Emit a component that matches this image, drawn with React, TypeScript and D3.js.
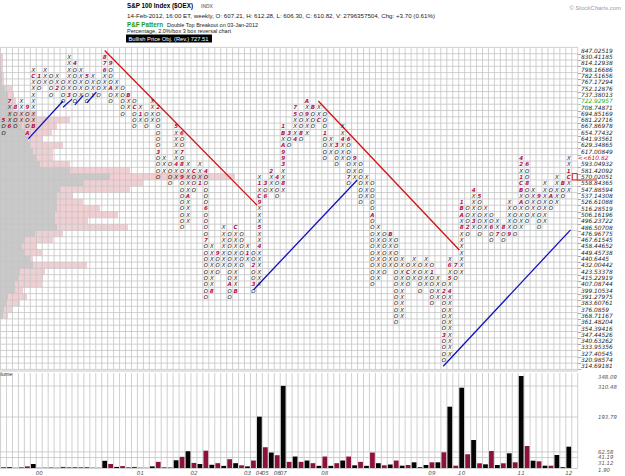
import React from 'react';
import * as d3 from 'd3';

// price level per box row (top row first), as printed on the right axis
const priceLabels = ['847.02519','830.41185','814.12938','798.16686','782.51656','767.17294','752.12876','737.38013','722.92957','708.74871','694.85169','681.22716','667.86978','654.77432','641.93561','629.34865','617.00849','<<610.82','593.04932','581.42092','570.02051','558.84365','547.88594','537.14308','526.61088','516.28519','506.16196','496.23722','486.50708','476.96775','467.61545','458.44652','449.45738','440.6445','432.00442','423.53378','415.22919','407.08744','399.10534','391.27975','383.60761','376.0859','368.71167','361.48204','354.39416','347.44526','340.63262','333.95356','327.40545','320.98574','314.69181'];

// P&F columns: top box row and the boxes from the top down (X / O, or month mark)
const colTop = [
  11,8,9,8,9,3,4,3,4,4, 5,1,2,3,4,4,5,1,2,5,
  6,7,8,9,10,8,9,17,18,12, 13,18,19,18,19,31,32,28,29,28,
  29,31,32,20,21,19,20,12,13,9, 10,8,9,9,10,14,15,12,14,17,
  18,20,21,28,29,29,30,33,34,33, 34,33,34,36,37,33,34,24,25,22,
  23,25,26,27,28,24,25,17,18,22, 23,21,22,20,21,17
];
const colBoxes = [
  '5OO','7XXX6','8OOO','XXXX','9OOOA','XCXXXXXXXB','1OO','XXX','OOOO','XX2',
  'OOOO','XXXXXX3','4OOOOOO','XXXXX','5OOOO','XXXX','OOO','876XXX','9OOOAOO','XXX',
  'OOOOO','BXX','OCOOO','X1X','OOO','XXXX','2OOOOOO3OOOO','XXX','OOOO','5XXXXX4XX',
  '6OO7O8O9OOOOOOOO','XXXXXAXXXX','COOO','XXX1','4OOOOO6OOOO7OOOOOOOOO','XXXXXXX8','9OOO','XXXXXXX','OOOOOOOOAOO','CXXXXXXXXXB',
  'OOOOOO','X1X','OO2OO3O','X1XC9XXX5XX4XXXXXX','3O6','2XXX','4OOO','1BXA993XX8X','3OO','75XXX4',
  'OOO8O','AX9XXX','BOOO','XXC','OOO1OOOO','XXX','3OOO','XX4XXX','6OOOOO7O','9XXX',
  'OOOOOOO','XXXX','OOOOOAOOOOOOOOOOO','XXXXXXXXX','OOOOOOO','BXXXXX','OOOOOOOOOOOOOO','XXXXXXXXXX','OCOO','XXXX',
  'OOOOO','XXXXX','O1OOOOO','XXXX','O2OOOOOO3OOOO','X6X5X4XXXXXXXXXX','7OO','1BAX8XXXXXXX','OOO2O','4XXXX3X',
  '5OOOOOO','XXXX','OO6OO','XX7','8OO','XXXXX9','OOOOO','42X1CBXAXXXX','6OO8OOOOOO','XXXXX',
  '9OOOOO','XXXXXXX','OAOO','XXXXX','BOO','XX1CXX'
];

// volume per column (millions)
const volume = [
  5,5,3,4,8,17,3,3,4,3, 6,4,5,4,5,3,3,29,17,6,
  9,4,6,3,3,8,25,4,4,31, 44,65,21,17,67,14,20,10,35,20,
  12,8,30,195,80,60,50,311,25,45, 25,30,20,10,45,10,20,30,45,12,
  25,10,60,20,12,15,30,10.6,13.2,23.3, 5.7,13.2,23.3,23.3,61,232.6,10.6,304,53.5,107.3,
  19.6,15.8,65.9,13.2,19.6,57.2,23.3,348,84.7,29.4, 27.1,10.6,10.6,50.8,5.7,82.1
];

// volume-at-price per box row: total (pink) and the grey part
const vapTotal = [0,3,3,3,4,4,12,14,16,14,37,70,57,52,43,63,53,53,70,130,235,143,130,73,83,100,118,88,128,63,53,37,42,33,87,45,43,42,23,27,20,12,8,0,0,0,0,0,0,0,0];
const vapGrey = [0,0,0,1,2,2,5,8,8,9,12,18,22,25,28,30,33,36,40,70,110,83,60,57,57,57,55,55,57,35,25,22,25,30,33,20,18,15,15,8,6,4,3,0,0,0,0,0,0,0,0];

const yearLabels = ['00','01','02','03','04','05','06','07','08','09','10','11','12'];
const yearCols = [6,23,32,41,43,44,46,47,54,72,77,87,95];

const volTicks = ['348.09','310.48','193.79','62.58','41.19','31.12','1.90'];
const volTickY = [377, 387, 417, 451.5, 457, 462.5, 470];
const volGridTicks = [310.48, 193.79, 62.58, 41.19];

// trend lines in (column, row) units
const redLines = [[[17, 0], [42.6, 24.5]], [[52.9, 8], [76.6, 31.6]]];
const blueLines = [
  [[4.16, 14], [10, 8]], [[10, 9], [11.5, 7.7]], [[12, 8.6], [13.4, 7.1]], [[14, 8.3], [15.6, 6.6]],
  [[42, 37.9], [59.45, 20.5]], [[73.9, 50], [95.3, 28.4]]
];
const reversalCol = 96, reversalRow = 20;

const mono = 'DejaVu Sans, sans-serif';
const sans = 'Liberation Sans, Arial, sans-serif';

export default function App() {
  const x = d3.scaleLinear().domain([-0.5, 96.5]).range([0.575, 577.7]);
  const y = d3.scaleLinear().domain([-0.5, 50.5]).range([47.35, 369.4]);
  const vy = d3.scaleLinear().domain([1.9, 348.09]).range([468, 376]);
  const vx = d3.scaleLinear().domain([0, 250]).range([0, 250]);
  const cw = x(1) - x(0);
  const rh = y(1) - y(0);
  const line = d3.line<number[]>().x(d => x(d[0])).y(d => y(d[1]));

  const cells: JSX.Element[] = [];
  colBoxes.forEach((s, i) => {
    s.split('').forEach((ch, j) => {
      const r = colTop[i] + j;
      const mark = ch !== 'X' && ch !== 'O';
      cells.push(
        <text key={`c${i}-${j}`} x={x(i)} y={y(r) + 2.1} textAnchor="middle"
          fontSize={mark ? 5.6 : 5.4} fontStyle="italic" fontWeight={mark ? 'bold' : 'normal'}
          fontFamily={mono} fill={mark ? '#b3124a' : '#111'}>{ch}</text>
      );
    });
  });

  return (
    <svg width={625} height={476} style={{ position: 'absolute', left: 0, top: 0, background: '#fff' }}>
      {/* header */}
      <text x={127} y={8} fontFamily={sans} fontWeight="bold" fontSize={7} textLength={66} lengthAdjust="spacingAndGlyphs">S&amp;P 100 Index ($OEX)</text>
      <text x={201} y={8} fontFamily={sans} fontWeight="bold" fontSize={5} fill="#888">INDX</text>
      <text x={127} y={17.5} fontFamily={sans} fontSize={5.4} fill="#222" textLength={308} lengthAdjust="spacingAndGlyphs">14-Feb-2012, 16:00 ET, weekly, O: 607.21, H: 612.28, L: 606.30, C: 610.82, V: 2796357504, Chg: +3.70 (0.61%)</text>
      <text x={127} y={26.5} fontFamily={sans} fontWeight="bold" fontSize={6.4} fill="#1a9a1a" textLength={36} lengthAdjust="spacingAndGlyphs">P&amp;F Pattern</text>
      <text x={167} y={26.5} fontFamily={sans} fontSize={5.2} fill="#222" textLength={91} lengthAdjust="spacingAndGlyphs">Double Top Breakout on 03-Jan-2012</text>
      <text x={127} y={33} fontFamily={sans} fontSize={5.2} fill="#222" textLength={104} lengthAdjust="spacingAndGlyphs">Percentage, 2.0%/box 3 box reversal chart</text>
      <rect x={126} y={34.5} width={86} height={8} fill="#000" />
      <text x={128.5} y={40.8} fontFamily={sans} fontSize={5.4} fill="#fff" textLength={80} lengthAdjust="spacingAndGlyphs">Bullish Price Obj. (Rev.) 727.51</text>
      <text x={621} y={10} textAnchor="end" fontFamily={sans} fontStyle="italic" fontSize={6} fill="#999">© StockCharts.com</text>

      {/* volume at price */}
      {vapTotal.map((v, k) => v > 0 && (
        <rect key={`vp${k}`} x={0} y={y(k - 0.5)} width={vx(v)} height={rh} fill="#f1cfd3" />
      ))}
      {vapGrey.map((v, k) => v > 0 && (
        <rect key={`vg${k}`} x={0} y={y(k - 0.5)} width={vx(v)} height={rh} fill="#c9c9c9" />
      ))}

      {/* grid */}
      {d3.range(98).map(k => (
        <line key={`gv${k}`} x1={x(k - 0.5)} x2={x(k - 0.5)} y1={y(-0.5)} y2={y(50.5)} stroke="#c4c4c4" strokeWidth={0.8} />
      ))}
      {d3.range(52).map(k => (
        <line key={`gh${k}`} x1={x(-0.5)} x2={x(96.5)} y1={y(k - 0.5)} y2={y(k - 0.5)} stroke="#c4c4c4" strokeWidth={0.8} />
      ))}

      {/* price axis */}
      {priceLabels.map((p, k) => (
        <text key={`pl${k}`} x={578} y={y(k) + 2.2} fontFamily={mono} fontStyle="italic" fontSize={5.9}
          fill={p.startsWith('<<') ? '#d01010' : k === 8 ? '#22aa22' : '#222'}>{p.startsWith('<<') ? p : '_' + p}</text>
      ))}

      {/* trend lines */}
      {redLines.map((l, i) => <path key={`rl${i}`} d={line(l) || ''} stroke="#d41010" strokeWidth={1.3} fill="none" />)}
      {blueLines.map((l, i) => <path key={`bl${i}`} d={line(l) || ''} stroke="#1010b8" strokeWidth={1.3} fill="none" />)}

      {cells}

      {/* reversal box */}
      <rect x={x(reversalCol - 0.5) + 0.5} y={y(reversalRow - 0.5)} width={cw - 1} height={rh} fill="none" stroke="#d41010" strokeWidth={0.9} />
      <line x1={x(reversalCol + 0.5) - 0.5} x2={597} y1={y(reversalRow + 0.5)} y2={y(reversalRow + 0.5)} stroke="#d41010" strokeWidth={0.9} />

      {/* volume panel */}
      <line x1={0} x2={578} y1={371} y2={371} stroke="#e2e2e2" strokeWidth={2} />
      {d3.range(98).map(k => (
        <line key={`vv${k}`} x1={x(k - 0.5)} x2={x(k - 0.5)} y1={373} y2={468} stroke="#c4c4c4" strokeWidth={0.8} />
      ))}
      {volGridTicks.map((t, i) => (
        <line key={`vh${i}`} x1={0} x2={578} y1={vy(t)} y2={vy(t)} stroke="#c4c4c4" strokeWidth={0.8} />
      ))}
      {volume.map((v, i) => (
        <rect key={`vb${i}`} x={x(i - 0.5) + 0.6} y={vy(v)} width={cw - 1.2} height={468 - vy(v)}
          fill={colBoxes[i].includes('X') ? '#050505' : '#8c1237'} />
      ))}
      <line x1={0} x2={578} y1={468.5} y2={468.5} stroke="#c4c4c4" strokeWidth={0.8} />
      <text x={-6} y={376} fontFamily={sans} fontSize={5.5} fill="#333">Volume</text>
      {volTicks.map((t, i) => (
        <text key={`vt${i}`} x={598} y={volTickY[i] + 2} fontFamily={mono} fontStyle="italic" fontSize={5.4} fill="#555">{t}</text>
      ))}
      {yearLabels.map((t, i) => (
        <text key={`yl${i}`} x={x(yearCols[i])} y={474.5} textAnchor="middle" fontFamily={mono} fontStyle="italic" fontSize={5.6} fill="#555">{t}</text>
      ))}
    </svg>
  );
}
